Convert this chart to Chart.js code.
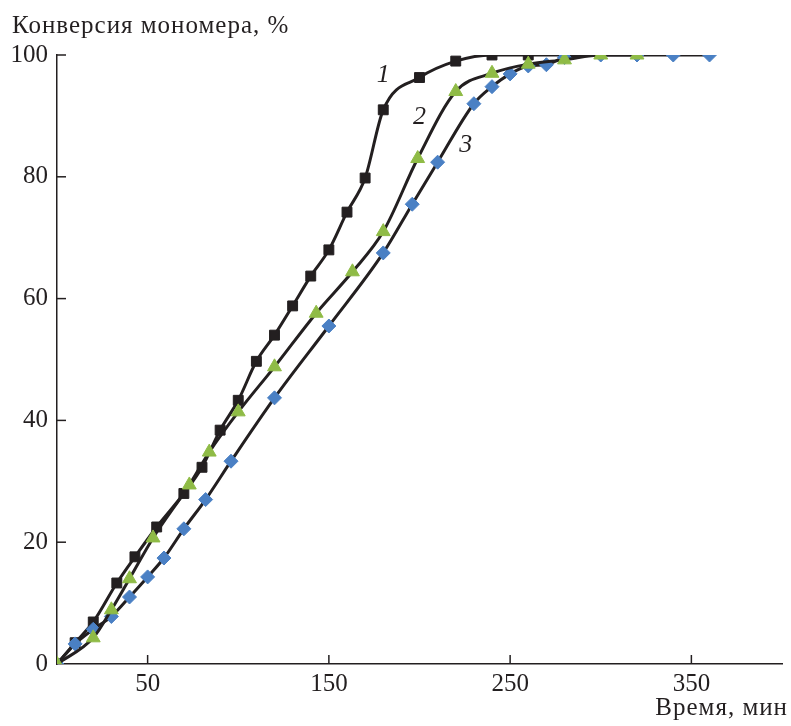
<!DOCTYPE html>
<html><head><meta charset="utf-8">
<script src="https://cdn.jsdelivr.net/npm/chart.js@4.4.0/dist/chart.umd.min.js"></script>
<style>html,body{margin:0;padding:0;background:#fff;}canvas{display:block}</style>
</head><body>
<canvas id="c" width="791" height="726"></canvas>
<script>
// Series 1 (black squares)
const time1 = [0,10,20,33,43,55,70,80,90,100,110,120,130,140,150,160,170,180,200,220,240,260,280];
const conv1 = [0,3.5,6.9,13.3,17.6,22.5,28,32.3,38.4,43.3,49.7,54,58.8,63.7,68,74.2,79.8,91,96.3,99,100,100,100];
// Series 2 (green triangles)
const time2 = [0,20,30,40,53,73,84,100,120,143,163,180,199,220,240,260,280,300,320];
const conv2 = [0,4.3,8.9,14,20.7,29.4,34.8,41.4,48.8,57.6,64.4,71,83,94,97,98.5,99.2,100,100];
// Series 3 (blue diamonds)
const time3 = [0,10,20,30,40,50,59,70,82,96,120,150,180,196,210,230,240,250,260,270,280,300,320,340,360];
const conv3 = [0,3.3,5.7,7.8,11,14.3,17.4,22.2,27,33.3,43.7,55.5,67.5,75.5,82.4,92,94.8,96.9,98.2,98.4,99.6,100,100,100,100];
const xTicks = [50,150,250,350];
const yTicks = [0,20,40,60,80,100];
const curveLabels = ['1','2','3'];
const curveLabelX = [180,200,225.5];
const curveLabelY = [96.7,89.8,85.2];
const yTitle = 'Конверсия мономера, %';
const xTitle = 'Время, мин';

const INK = '#231f20';
const FONT = '"Liberation Serif", "DejaVu Serif", serif';
const pts = (t, v) => t.map((x, i) => ({x, y: v[i]}));

const decor = {
  id: 'decor',
  afterDraw(chart) {
    const ctx = chart.ctx, xs = chart.scales.x, ys = chart.scales.y, a = chart.chartArea;
    ctx.save();
    ctx.strokeStyle = INK; ctx.lineWidth = 1.5;
    xTicks.forEach(v => { const p = xs.getPixelForValue(v); ctx.beginPath(); ctx.moveTo(p, a.bottom); ctx.lineTo(p, a.bottom - 9); ctx.stroke(); });
    yTicks.filter(v => v > 0).forEach(v => { const p = ys.getPixelForValue(v); ctx.beginPath(); ctx.moveTo(a.left, p); ctx.lineTo(a.left + 9, p); ctx.stroke(); });
    ctx.fillStyle = INK;
    ctx.font = '25px ' + FONT;
    try { ctx.letterSpacing = '1px'; } catch (e) {}
    ctx.textBaseline = 'alphabetic';
    ctx.textAlign = 'left';
    ctx.fillText(yTitle, 12, 33);
    ctx.textAlign = 'right';
    ctx.fillText(xTitle, 788, 715);
    try { ctx.letterSpacing = '0px'; } catch (e) {}
    ctx.font = 'italic 26px ' + FONT;
    ctx.textAlign = 'center'; ctx.textBaseline = 'middle';
    curveLabels.forEach((s, i) => ctx.fillText(s, xs.getPixelForValue(curveLabelX[i]), ys.getPixelForValue(curveLabelY[i])));
    ctx.restore();
  }
};

new Chart(document.getElementById('c'), {
  type: 'line',
  data: {
    datasets: [
      { data: pts(time2, conv2), order: 0, borderColor: INK, borderWidth: 3, pointStyle: 'triangle', pointRadius: 8, pointBackgroundColor: '#8fbb46', pointBorderColor: '#8fbb46', pointBorderWidth: 1, cubicInterpolationMode: 'monotone' },
      { data: pts(time3, conv3), order: 1, borderColor: INK, borderWidth: 3, pointStyle: 'rectRot', pointRadius: 7, pointBackgroundColor: '#4a80c4', pointBorderColor: '#4a80c4', pointBorderWidth: 1, cubicInterpolationMode: 'monotone' },
      { data: pts(time1, conv1), order: 2, borderColor: INK, borderWidth: 3, pointStyle: 'rect', pointRadius: 7, pointBackgroundColor: INK, pointBorderColor: INK, pointBorderWidth: 1, cubicInterpolationMode: 'monotone' }
    ]
  },
  options: {
    responsive: false, animation: false, devicePixelRatio: 1,
    layout: { padding: { top: 55, right: 2, left: 0, bottom: 0 } },
    plugins: { legend: { display: false }, tooltip: { enabled: false } },
    scales: {
      x: {
        type: 'linear', min: 0, max: 400,
        afterBuildTicks: s => { s.ticks = xTicks.map(v => ({ value: v })); },
        afterFit: s => { s.height = 62; },
        grid: { display: false, drawTicks: false },
        border: { display: true, color: INK, width: 1.5 },
        ticks: { color: INK, font: { family: FONT, size: 25 }, padding: 5, maxRotation: 0, autoSkip: false }
      },
      y: {
        min: 0, max: 100,
        afterBuildTicks: s => { s.ticks = yTicks.map(v => ({ value: v })); },
        afterFit: s => { s.width = 57; },
        grid: { display: false, drawTicks: false },
        border: { display: true, color: INK, width: 1.5 },
        ticks: { color: INK, font: { family: FONT, size: 25 }, padding: 9 }
      }
    }
  },
  plugins: [decor]
});
</script>
</body></html>
